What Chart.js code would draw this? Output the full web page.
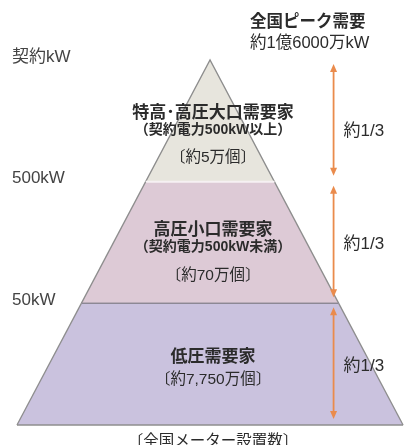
<!DOCTYPE html>
<html><head><meta charset="utf-8">
<script src="https://cdn.jsdelivr.net/npm/chart.js@4.4.1/dist/chart.umd.min.js"></script>
<style>html,body{margin:0;padding:0;background:#fff;overflow:hidden}#wrap{width:405px;height:445px;position:relative}</style>
</head><body><div id="wrap"><canvas id="c"></canvas></div>
<script>
// Tiers listed from the bottom of the pyramid to the top
const tierNames = ['低圧需要家', '高圧小口需要家', '特高･高圧大口需要家'];
const tierNotes = ['', '（契約電力500kW未満）', '（契約電力500kW以上）'];
const tierCounts = ['〔約7,750万個〕', '〔約70万個〕', '〔約5万個〕'];
const demandShares = [1/3, 1/3, 1/3];          // share of national peak demand
const shareLabels = ['約1/3', '約1/3', '約1/3'];
const boundaryLabels = ['50kW', '500kW', '契約kW'];
const peakTitle = '全国ピーク需要';
const peakValue = '約1億6000万kW';
const baseTitle = '〔全国メーター設置数〕';

// ---- styles (kept apart from the data) ----
const FONT = '"Liberation Sans", "Noto Sans CJK JP", sans-serif';
const tierFills = ['#cac2de', '#ddcad6', '#e7e5dd'];
const edgeColors = ['#8e8e8e', '#8c8894', '#f6f1f3'];
const sideColor = '#8d8d8d';
const arrowColor = '#ea8b4c';
const textColor = '#2b2b2b';
const tierTextOffsets = [[-7, 16], [-12, 5, 33], [-8, 9, 37]];
const tierTextFonts = ['bold 17px ' + FONT, 'bold 14px ' + FONT, '15.5px ' + FONT];

// cumulative levels of demand share
const total = demandShares.reduce((a, b) => a + b, 0);
const levels = [0];
demandShares.forEach(s => levels.push(levels[levels.length - 1] + s / total));

const halfWidth = h => 1 - h;   // pyramid narrows linearly to the apex

const datasets = tierNames.map((name, i) => {
  const a = levels[i], b = levels[i + 1];
  return {
    label: name,
    data: [
      {x: -halfWidth(a), y: a}, {x: halfWidth(a), y: a},
      {x: halfWidth(b), y: b}, {x: -halfWidth(b), y: b},
      {x: -halfWidth(a), y: a}
    ],
    backgroundColor: tierFills[i],
    borderColor: sideColor,
    borderWidth: 1.3,
    fill: false,
    pointRadius: 0,
    tension: 0,
    segment: {
      borderColor: ctx => ctx.p0DataIndex === 0 ? edgeColors[i]
                        : ctx.p0DataIndex === 2 ? (edgeColors[i + 1] || sideColor)
                        : sideColor,
      borderWidth: ctx => (ctx.p0DataIndex === 2 && i === 1) ? 2 : 1.3
    }
  };
});

// fill each tier polygon from the points the line controller placed
const polygonFill = {
  id: 'polygonFill',
  beforeDatasetDraw(chart, args) {
    const pts = args.meta.data;
    if (!pts.length) return;
    const {ctx} = chart;
    ctx.save();
    ctx.beginPath();
    pts.forEach((p, k) => k ? ctx.lineTo(p.x, p.y) : ctx.moveTo(p.x, p.y));
    ctx.closePath();
    ctx.fillStyle = chart.data.datasets[args.index].backgroundColor;
    ctx.fill();
    ctx.restore();
  }
};

function drawArrowHead(ctx, x, y, dir) {
  ctx.beginPath();
  ctx.moveTo(x, y);
  ctx.lineTo(x - 3.5, y - dir * 8);
  ctx.lineTo(x + 3.5, y - dir * 8);
  ctx.closePath();
  ctx.fill();
}

const annotate = {
  id: 'annotate',
  afterDatasetsDraw(chart) {
    const {ctx, scales: {x: xs, y: ys}} = chart;
    ctx.save();
    const cx = xs.getPixelForValue(0);
    const arrowX = xs.getPixelForValue(0.64);
    // tier texts
    ctx.textAlign = 'center';
    ctx.textBaseline = 'middle';
    ctx.fillStyle = textColor;
    tierNames.forEach((name, i) => {
      const yMid = (ys.getPixelForValue(levels[i]) + ys.getPixelForValue(levels[i + 1])) / 2;
      const lines = [[name, 0], [tierNotes[i], 1], [tierCounts[i], 2]].filter(l => l[0]);
      lines.forEach((l, k) => {
        ctx.font = tierTextFonts[l[1]];
        ctx.fillText(l[0], cx + 3, yMid + tierTextOffsets[i][k]);
      });
    });
    // arrows & share labels
    ctx.strokeStyle = arrowColor;
    ctx.fillStyle = arrowColor;
    ctx.lineWidth = 1.8;
    demandShares.forEach((s, i) => {
      const yb = ys.getPixelForValue(levels[i]) - 6;
      const yt = ys.getPixelForValue(levels[i + 1]) + 4;
      ctx.beginPath();
      ctx.moveTo(arrowX, yb - 4);
      ctx.lineTo(arrowX, yt + 4);
      ctx.stroke();
      drawArrowHead(ctx, arrowX, yt, -1);
      drawArrowHead(ctx, arrowX, yb, 1);
    });
    ctx.fillStyle = textColor;
    ctx.textAlign = 'left';
    ctx.font = '17px ' + FONT;
    shareLabels.forEach((t, i) => {
      const yMid = (ys.getPixelForValue(levels[i]) + ys.getPixelForValue(levels[i + 1])) / 2;
      ctx.fillText(t, arrowX + 10, yMid + (i === 2 ? 10 : 2));
    });
    // header
    const yTop = ys.getPixelForValue(levels[levels.length - 1]);
    ctx.font = 'bold 16.5px ' + FONT;
    ctx.fillText(peakTitle, cx + 40, yTop - 38);
    ctx.font = '16.5px ' + FONT;
    ctx.fillText(peakValue, cx + 40, yTop - 17);
    // base title
    ctx.textAlign = 'center';
    ctx.font = '15.5px ' + FONT;
    ctx.fillText(baseTitle, cx + 3, ys.getPixelForValue(0) + 17);
    ctx.restore();
  }
};

Chart.defaults.font.family = FONT;
new Chart(document.getElementById('c'), {
  type: 'line',
  data: {datasets},
  options: {
    responsive: true,
    maintainAspectRatio: false,
    animation: false,
    layout: {padding: 0},
    plugins: {legend: {display: false}, tooltip: {enabled: false}},
    scales: {
      x: {type: 'linear', min: -1.088, max: 1.01, display: false},
      y: {
        type: 'linear', min: -0.0548, max: 1.1644,
        grid: {display: false, drawTicks: false},
        border: {display: false},
        afterFit(scale) { scale.width = 0; scale.paddingTop = 0; scale.paddingBottom = 0; },
        afterBuildTicks(scale) { scale.ticks = levels.slice(1).map(v => ({value: v})); },
        ticks: {
          mirror: true, padding: 12, color: '#444', labelOffset: -3,
          font: {size: 17},
          callback: (v, idx) => boundaryLabels[idx]
        }
      }
    }
  },
  plugins: [polygonFill, annotate]
});
</script></body></html>
